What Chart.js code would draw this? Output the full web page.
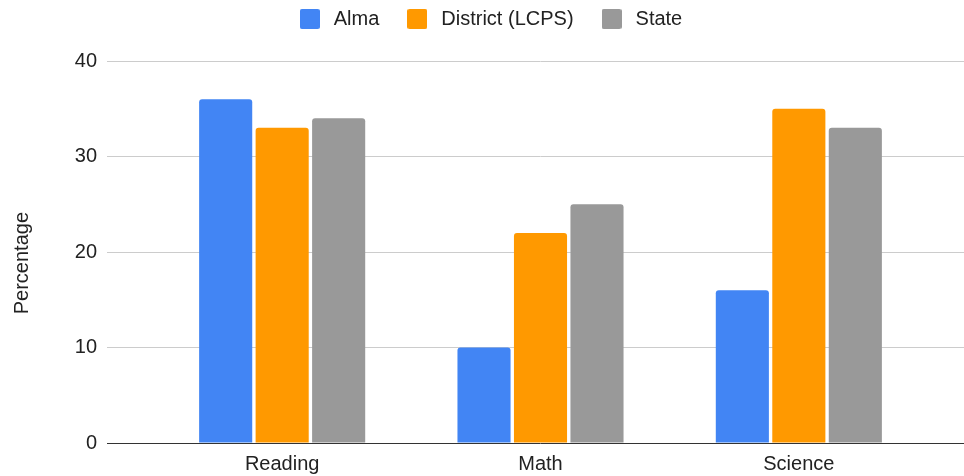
<!DOCTYPE html>
<html><head><meta charset="utf-8">
<script src="https://cdn.jsdelivr.net/npm/chart.js@4.4.1/dist/chart.umd.min.js"></script>
<style>html,body{margin:0;padding:0;background:#fff}#wrap{width:964px;height:476px;position:relative}</style>
</head><body><div id="wrap"><canvas id="c"></canvas></div>
<script>
const categories = ['Reading', 'Math', 'Science'];
const seriesNames = ['Alma', 'District (LCPS)', 'State'];
const almaValues = [36, 10, 16];
const districtValues = [33, 22, 35];
const stateValues = [34, 25, 33];
const yTicks = [0, 10, 20, 30, 40];
const seriesColors = ['#4285f4', '#ff9900', '#999999'];

Chart.defaults.font.family = "'Liberation Sans', Arial, sans-serif";
Chart.defaults.color = '#222';

const gridColor = c => (c.tick && c.tick.value === 0) ? '#333' : '#cccccc';

function makeBox(color) {
  const cv = document.createElement('canvas');
  cv.width = 20; cv.height = 20;
  const g = cv.getContext('2d');
  g.fillStyle = color;
  g.beginPath();
  if (g.roundRect) { g.roundRect(0, 0, 20, 20, 2); } else { g.rect(0, 0, 20, 20); }
  g.fill();
  return cv;
}
const boxImages = seriesColors.map(makeBox);

const gridExtend = {
  id: 'gridExtend',
  beforeDatasetsDraw(chart) {
    const {ctx, chartArea, scales: {y}} = chart;
    ctx.save();
    ctx.lineWidth = 1;
    y.ticks.forEach(t => {
      const py = Math.round(y.getPixelForValue(t.value) - 0.5) + 0.5;
      ctx.strokeStyle = t.value === 0 ? '#333' : '#cccccc';
      ctx.beginPath();
      ctx.moveTo(chartArea.right, py);
      ctx.lineTo(chart.width, py);
      ctx.stroke();
    });
    ctx.restore();
  }
};

const values = [almaValues, districtValues, stateValues];

new Chart(document.getElementById('c'), {
  type: 'bar',
  data: {
    labels: categories,
    datasets: seriesNames.map((name, i) => ({
      label: name,
      data: values[i],
      backgroundColor: seriesColors[i],
      borderRadius: 3,
      categoryPercentage: 0.656,
      barPercentage: 0.94
    }))
  },
  options: {
    responsive: true,
    maintainAspectRatio: false,
    animation: false,
    devicePixelRatio: 1,
    layout: {padding: {top: -15, bottom: -9, left: 14, right: 0}},
    plugins: {
      legend: {
        position: 'top',
        weight: 3000,
        labels: {
          usePointStyle: true,
          pointStyleWidth: 28,
          boxHeight: 20,
          padding: 24,
          color: '#222',
          font: {size: 20},
          generateLabels(chart) {
            const items = Chart.defaults.plugins.legend.labels.generateLabels(chart);
            items.forEach(it => { it.pointStyle = boxImages[it.datasetIndex]; });
            return items;
          }
        }
      },
      title: {display: true, text: '', font: {size: 10}, padding: {top: 5, bottom: 5}},
      tooltip: {enabled: false}
    },
    scales: {
      x: {
        grid: {display: false, drawTicks: false},
        border: {display: false},
        ticks: {padding: 9, color: '#222', font: {size: 20}, maxRotation: 0}
      },
      y: {
        min: yTicks[0],
        max: yTicks[yTicks.length - 1],
        ticks: {stepSize: yTicks[1] - yTicks[0], padding: 10, color: '#222', font: {size: 20}},
        grid: {color: gridColor, tickColor: gridColor, tickLength: 46},
        border: {display: false},
        title: {display: true, text: 'Percentage    ', color: '#222', font: {size: 20}, padding: {top: -4, bottom: 0}},
        afterFit(s) { s.width = 139; }
      },
      y2: {
        type: 'linear',
        position: 'right',
        grid: {drawOnChartArea: false, drawTicks: false},
        border: {display: false},
        ticks: {display: false},
        afterFit(s) { s.width = 36; }
      }
    }
  },
  plugins: [gridExtend]
});
</script>
</body></html>
